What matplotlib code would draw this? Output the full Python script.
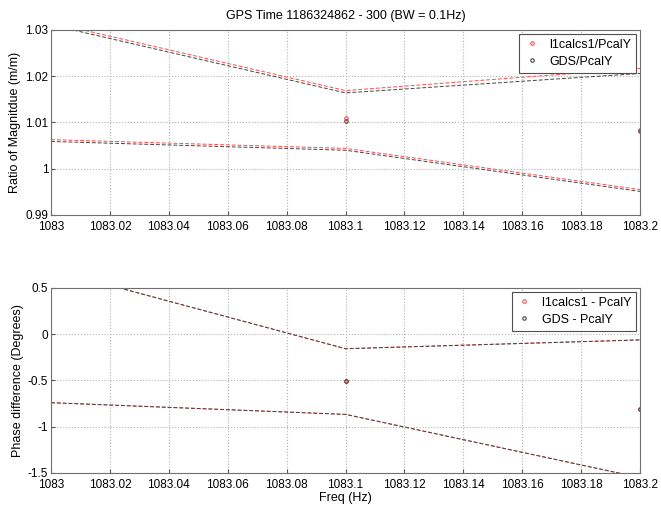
import matplotlib
matplotlib.use('Agg')
import matplotlib.pyplot as plt

plt.rcParams['font.family'] = ['Liberation Sans', 'DejaVu Sans']
plt.rcParams['axes.unicode_minus'] = False

# Band edges (dashed) and measured points
freq = [1083.0, 1083.1, 1083.2]
freq_pts = [1083.1, 1083.2]

l1_mag_upper = [1.0316, 1.0169, 1.0217]
l1_mag_lower = [1.0063, 1.0044, 0.9955]
gds_mag_upper = [1.0311, 1.0164, 1.0206]
gds_mag_lower = [1.0059, 1.0040, 0.9951]
l1_mag = [1.0109, 1.0084]
gds_mag = [1.0104, 1.0081]

l1_pha_upper = [0.70, -0.155, -0.06]
l1_pha_lower = [-0.74, -0.865, -1.55]
gds_pha_upper = [0.70, -0.157, -0.062]
gds_pha_lower = [-0.74, -0.867, -1.55]
l1_pha = [-0.505, -0.81]
gds_pha = [-0.508, -0.813]

xticks = [1083 + 0.02 * i for i in range(11)]
xticklabels = ['1083', '1083.02', '1083.04', '1083.06', '1083.08', '1083.1',
               '1083.12', '1083.14', '1083.16', '1083.18', '1083.2']

red = '#ff4a4a'
blk = '#454545'

fig = plt.figure(figsize=(6.61, 5.11), dpi=100)
ax1 = fig.add_axes([0.0772, 0.5793, 0.891, 0.362])
ax2 = fig.add_axes([0.0772, 0.0744, 0.891, 0.362])


def style(ax):
    ax.set_xlim(1083, 1083.2)
    ax.set_xticks(xticks)
    ax.set_xticklabels(xticklabels)
    ax.grid(True, linestyle=':', color='#b0b0b0', linewidth=0.8)
    ax.tick_params(direction='in', length=3, labelsize=8.5, color='#555555', pad=2)
    ax.tick_params(axis='x', pad=4)
    for s in ax.spines.values():
        s.set_color('#707070')
        s.set_linewidth(0.8)


# Magnitude ratio
ax1.plot(freq_pts, l1_mag, 'o', ms=2.5, mfc='none', mec=red, mew=0.8, label='l1calcs1/PcalY')
ax1.plot(freq_pts, gds_mag, 'o', ms=2.5, mfc='none', mec=blk, mew=0.8, label='GDS/PcalY')
ax1.plot(freq, l1_mag_upper, '--', color=red, lw=0.7, dashes=(4, 2))
ax1.plot(freq, l1_mag_lower, '--', color=red, lw=0.7, dashes=(4, 2))
ax1.plot(freq, gds_mag_upper, '--', color=blk, lw=0.7, dashes=(4, 2))
ax1.plot(freq, gds_mag_lower, '--', color=blk, lw=0.7, dashes=(4, 2))
style(ax1)
ax1.set_ylim(0.99, 1.03)
ax1.set_yticks([0.99, 1.0, 1.01, 1.02, 1.03])
ax1.set_yticklabels(['0.99', '1', '1.01', '1.02', '1.03'])
ax1.set_ylabel('Ratio of Magnitdue (m/m)', fontsize=9, labelpad=3)
ax1.set_title('GPS Time 1186324862 - 300 (BW = 0.1Hz)', fontsize=9, pad=8)
leg1 = ax1.legend(loc='upper right', fontsize=9, fancybox=False, framealpha=1,
                  edgecolor='#505050', borderaxespad=0.3, handlelength=1.2,
                  handletextpad=0.8, labelspacing=0.4, markerscale=1.0)
leg1.get_frame().set_linewidth(0.8)

# Phase difference
ax2.plot(freq_pts, l1_pha, 'o', ms=2.5, mfc='none', mec=red, mew=0.8, label='l1calcs1 - PcalY')
ax2.plot(freq_pts, gds_pha, 'o', ms=2.5, mfc='none', mec=blk, mew=0.8, label='GDS - PcalY')
ax2.plot(freq, l1_pha_upper, '--', color=red, lw=0.7, dashes=(4, 2))
ax2.plot(freq, l1_pha_lower, '--', color=red, lw=0.7, dashes=(4, 2))
ax2.plot(freq, gds_pha_upper, '--', color=blk, lw=0.7, dashes=(4, 2))
ax2.plot(freq, gds_pha_lower, '--', color=blk, lw=0.7, dashes=(4, 2))
style(ax2)
ax2.set_ylim(-1.5, 0.5)
ax2.set_yticks([-1.5, -1, -0.5, 0, 0.5])
ax2.set_yticklabels(['-1.5', '-1', '-0.5', '0', '0.5'])
ax2.set_ylabel('Phase difference (Degrees)', fontsize=9, labelpad=3)
ax2.set_xlabel('Freq (Hz)', fontsize=9, labelpad=1)
leg2 = ax2.legend(loc='upper right', fontsize=9, fancybox=False, framealpha=1,
                  edgecolor='#505050', borderaxespad=0.3, handlelength=1.2,
                  handletextpad=0.8, labelspacing=0.4)
leg2.get_frame().set_linewidth(0.8)

fig.savefig('out.png', dpi=100)
